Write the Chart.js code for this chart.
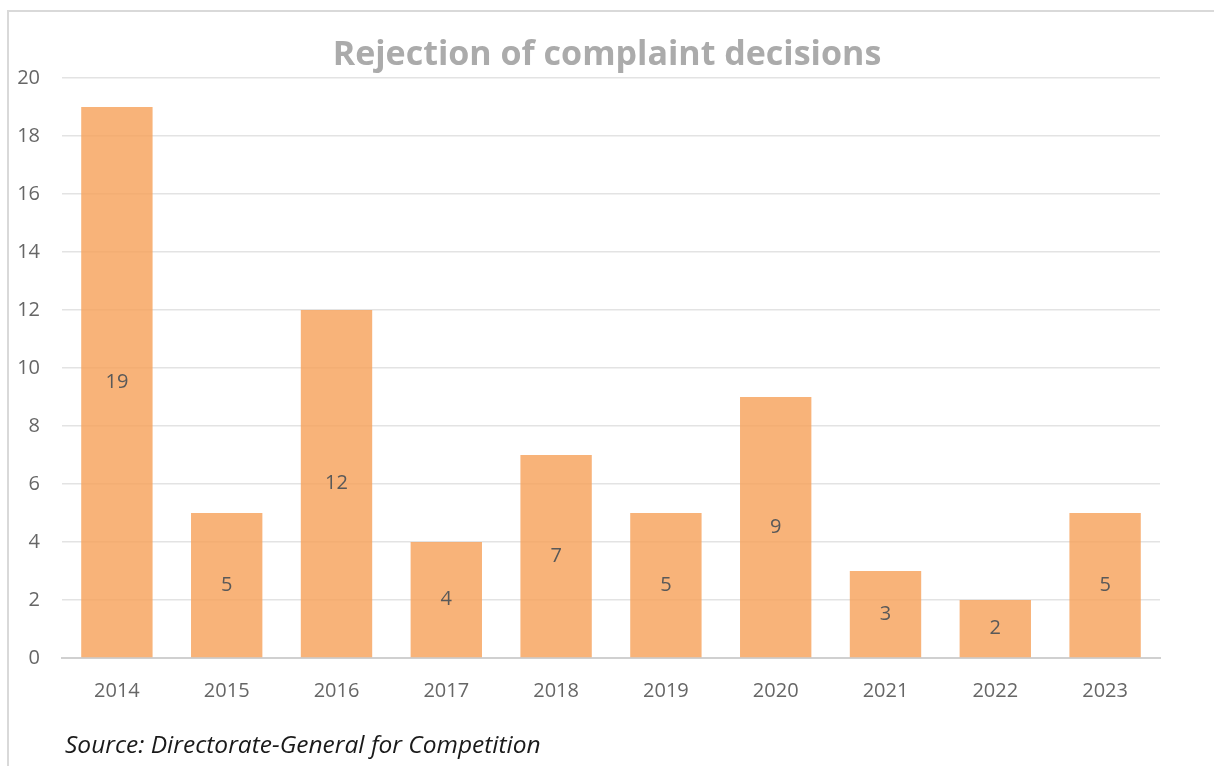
<!DOCTYPE html>
<html>
<head>
<meta charset="utf-8">
<script src="https://cdn.jsdelivr.net/npm/chart.js@4.4.0/dist/chart.umd.min.js"></script>
<style>
    html, body { margin: 0; padding: 0; background: #fff; }
    body { width: 1214px; height: 766px; position: relative; overflow: hidden; }
    .frame {
        position: absolute; left: 7px; top: 10px; width: 1220px; height: 770px;
        border-left: 2px solid #d9d9d9; border-top: 2px solid #d9d9d9;
    }
    #chartWrap { position: absolute; left: 0; top: 0; width: 1214px; height: 740px; }
    .source {
        position: absolute; left: 65px; top: 727px;
        font-family: 'Open Sans', sans-serif; font-style: italic; font-size: 24.5px; color: #1a1a1a;
    }
</style>
</head>
<body>
<div class="frame"></div>
<div id="chartWrap"><canvas id="rejChart" width="1214" height="740"></canvas></div>
<div class="source">Source: Directorate-General for Competition</div>
<script>
const chartTitle = 'Rejection of complaint decisions';
const years = ['2014', '2015', '2016', '2017', '2018', '2019', '2020', '2021', '2022', '2023'];
const rejections = [19, 5, 12, 4, 7, 5, 9, 3, 2, 5];
const yTicks = [0, 2, 4, 6, 8, 10, 12, 14, 16, 18, 20];

// labels in the middle of each bar
const barLabels = {
    id: 'barLabels',
    afterDatasetsDraw(chart) {
        const c = chart.ctx;
        const meta = chart.getDatasetMeta(0);
        c.save();
        c.font = '20px "Open Sans", sans-serif';
        c.fillStyle = '#595959';
        c.textAlign = 'center';
        c.textBaseline = 'middle';
        meta.data.forEach((bar, i) => {
            c.fillText(String(rejections[i]), bar.x, (bar.y + bar.base) / 2);
        });
        c.restore();
    }
};

// title centred on the whole page, not on the padded area
const pageTitle = {
    id: 'pageTitle',
    afterDraw(chart) {
        const c = chart.ctx;
        c.save();
        c.font = 'bold 34px "Open Sans", sans-serif';
        c.fillStyle = '#ababab';
        c.textAlign = 'center';
        c.textBaseline = 'middle';
        c.fillText(chartTitle, chart.width / 2, 55);
        c.restore();
    }
};

const ctx = document.getElementById('rejChart');
new Chart(ctx, {
    type: 'bar',
    data: {
        labels: years,
        datasets: [{
            data: rejections,
            backgroundColor: 'rgba(246, 162, 91, 0.82)',
            borderWidth: 0,
            barPercentage: 0.65,
            categoryPercentage: 1.0
        }]
    },
    options: {
        responsive: false,
        animation: false,
        layout: { padding: { left: 17, right: 54, top: 78, bottom: 16 } },
        plugins: {
            legend: { display: false },
            tooltip: { enabled: false },
            title: { display: false }
        },
        scales: {
            x: {
                grid: { display: false, drawTicks: false },
                border: { color: '#d0d0d0', width: 2 },
                ticks: {
                    color: '#666',
                    font: { family: 'Open Sans', size: 20 },
                    padding: 21
                }
            },
            y: {
                min: 0,
                max: 20,
                afterBuildTicks: axis => { axis.ticks = yTicks.map(v => ({ value: v })); },
                afterFit: axis => { axis.width = 45; },
                grid: { color: '#e3e3e3', lineWidth: 1.5, drawTicks: false },
                border: { display: false },
                ticks: {
                    color: '#666',
                    font: { family: 'Open Sans', size: 20 },
                    padding: 22
                }
            }
        }
    },
    plugins: [barLabels, pageTitle]
});
</script>
</body>
</html>
